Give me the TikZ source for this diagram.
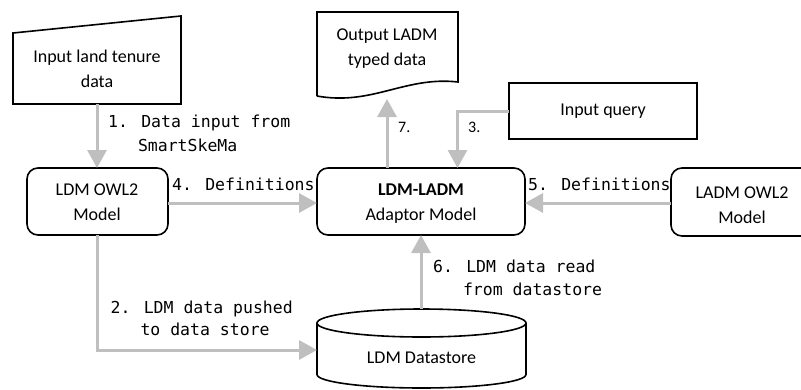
\documentclass[tikz,border=0pt]{standalone}
\usepackage{fontspec}
\setmainfont{Carlito}[Numbers=Lining]
\newfontfamily\codefont{DejaVu Sans Mono}
\newfontfamily\stepfont{Carlito}[Numbers=Lining,Scale=1.6]
\usetikzlibrary{arrows.meta,positioning}
\definecolor{flowgray}{RGB}{191,191,191}
\tikzset{
  boxline/.style={draw=black,line width=1.6pt},
  roundbox/.style={boxline,rounded corners=11pt},
  boxtext/.style={font=\fontsize{18}{25}\selectfont,align=center,inner sep=0pt},
  codelabel/.style={font=\codefont\fontsize{16.5}{22}\selectfont,inner sep=0pt,anchor=base west},
  steplabel/.style={font=\stepfont,inner sep=0pt,anchor=base west},
  flow/.style={draw=flowgray,line width=3pt,-{Triangle[width=19pt,length=18pt]}},
}
\begin{document}
\begin{tikzpicture}[x=1pt,y=-1pt]
\useasboundingbox (0,0) rectangle (801,389);
\clip (0,0) rectangle (801,389);

% manual input: land tenure data
\draw[boxline] (13,33) -- (181,16) -- (181,104) -- (13,104) -- cycle;
\node[boxtext] (landdata) at (97,69) {Input land tenure\\data};
\coordinate (landbot) at (97,104);

% output document with wavy bottom edge
\draw[boxline] (317,96) -- (317,12) -- (458,12) -- (458,82)
  .. controls (405,76) and (372,106) .. (317,96);
\node[boxtext] (outdata) at (387,49) {Output LADM\\typed data};
\coordinate (outbot) at (387,99);

% input query
\draw[boxline] (509,83) rectangle (697,139);
\node[boxtext] (query) at (603,111) {Input query};
\coordinate (queryleft) at (509,111);

% model boxes
\draw[roundbox] (27,168) rectangle (168,235);
\node[boxtext] (ldm) at (97,202) {LDM OWL2\\Model};

\draw[roundbox] (317,168) rectangle (525,235);
\node[boxtext] (adaptor) at (421,204) {\textbf{LDM-LADM}\\Adaptor Model};

\draw[roundbox] (671,168) rectangle (830,236);
\node[boxtext] (ladm) at (742,205) {LADM OWL2\\Model};

% datastore cylinder
\draw[boxline] (317,323) -- (317,374.5) arc[start angle=180,end angle=0,x radius=104.5,y radius=13.5] -- (526,323);
\draw[boxline] (421.5,323) ellipse[x radius=104.5,y radius=14];
\node[boxtext] (store) at (421.5,358) {LDM Datastore};

% anchor points on the shapes
\coordinate (ldmtop) at (97,168);
\coordinate (ldmright) at (168,203);
\coordinate (ldmbot) at (97,235);
\coordinate (adtopA) at (387,168);
\coordinate (adtopB) at (457.5,168);
\coordinate (adleft) at (317,203);
\coordinate (adright) at (525,203);
\coordinate (adbot) at (421,235);
\coordinate (ladmleft) at (671,203);
\coordinate (storetop) at (421,309);
\coordinate (storeleft) at (317,350);

% data flow
\draw[flow] (landbot) -- (ldmtop);
\draw[flow] (ldmright) -- (adleft);
\draw[flow] (ladmleft) -- (adright);
\draw[flow] (ldmbot) |- (storeleft);
\draw[flow] (storetop) -- (adbot);
\draw[flow] (adtopA) -- (outbot);
\draw[flow] (queryleft) -| (adtopB);

% step labels
\node[codelabel] (l1a) at (108,127) {1. Data input from};
\node[codelabel] (l1b) at (137.8,151) {SmartSkeMa};
\node[codelabel] (l4) at (172,190) {4. Definitions};
\node[codelabel] (l5) at (528,190) {5. Definitions};
\node[codelabel] (l2a) at (110.5,313) {2. LDM data pushed};
\node[codelabel] (l2b) at (140.3,335.5) {to data store};
\node[codelabel] (l6a) at (433,272) {6. LDM data read};
\node[codelabel] (l6b) at (462.8,295) {from datastore};
\node[steplabel] (l7) at (398,132) {7.};
\node[steplabel] (l3) at (468,132) {3.};
\end{tikzpicture}
\end{document}
